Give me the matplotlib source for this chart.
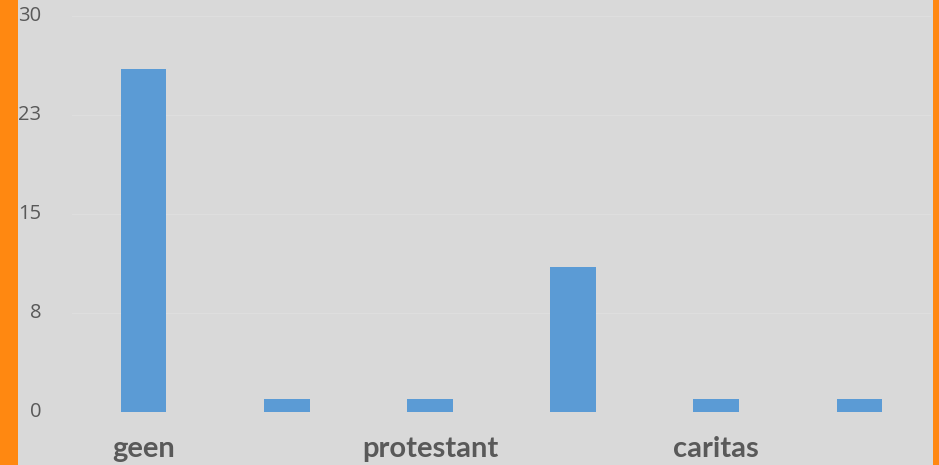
import matplotlib.pyplot as plt
from matplotlib.patches import Rectangle

# data
categorieen = ['geen', '', 'protestant', '', 'caritas', '']
aantallen = [26, 1, 1, 11, 1, 1]
y_ticks = [0, 7.5, 15, 22.5, 30]
y_labels = ['0', '8', '15', '23', '30']

grijs = '#d9d9d9'
tekst = '#595959'

fig = plt.figure(figsize=(9.39, 4.65), dpi=100)
fig.patch.set_facecolor('#ff8811')
# grey panel between the orange side strips
fig.patches.append(Rectangle((18 / 939, 0), (933 - 18) / 939, 1,
                             transform=fig.transFigure, facecolor=grijs,
                             edgecolor='none', zorder=-5))

ax = fig.add_axes([72 / 939, 53 / 465, (931 - 72) / 939, (412 - 16) / 465])
ax.set_facecolor(grijs)

x = range(len(categorieen))
ax.bar(x, aantallen, width=0.32, color='#5b9bd5', zorder=3)

ax.set_xlim(-0.5, len(categorieen) - 0.5)
ax.set_ylim(0, 30)
ax.set_yticks(y_ticks)
ax.set_yticklabels(y_labels, fontsize=14.5, color=tekst, family='Open Sans')
ax.set_xticks(list(x))
ax.set_xticklabels(categorieen, fontsize=21, color=tekst,
                   fontweight='bold', family='Lato')
ax.tick_params(axis='y', length=0, pad=22)
ax.tick_params(axis='x', length=0, pad=17)
for t in ax.get_yticklabels():
    t.set_verticalalignment('center')

ax.grid(axis='y', color='#dedede', linewidth=1, zorder=1)
for s in ax.spines.values():
    s.set_visible(False)

fig.savefig('out.png', dpi=100, facecolor=fig.get_facecolor())
